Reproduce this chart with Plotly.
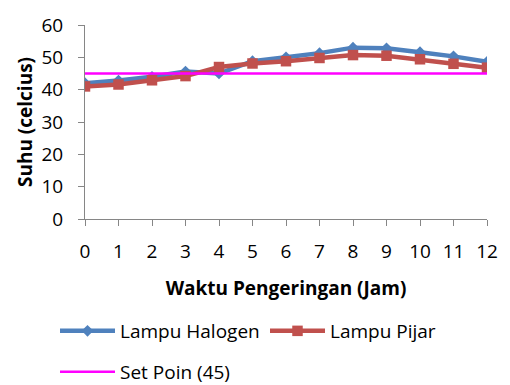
import plotly.graph_objects as go

# Drying time (hours) and measured temperatures
jam = [0, 1, 2, 3, 4, 5, 6, 7, 8, 9, 10, 11, 12]
lampu_halogen = [42.0, 42.8, 44.0, 45.6, 45.0, 48.8, 50.0, 51.3, 53.0, 52.8, 51.6, 50.3, 48.6]
lampu_pijar = [41.0, 41.6, 42.9, 44.2, 47.0, 48.1, 48.8, 49.8, 50.7, 50.5, 49.4, 48.0, 46.8]
set_poin = [45] * len(jam)

y_ticks = [0, 10, 20, 30, 40, 50, 60]
FONT = "Open Sans"
FS = 19
AXIS_GREY = "#868686"

fig = go.Figure()

fig.add_trace(go.Scatter(
    x=jam, y=lampu_halogen, name="Lampu Halogen", mode="lines+markers",
    line=dict(color="#4F81BD", width=4.5),
    marker=dict(symbol="diamond", size=9, color="#4F81BD"),
    legend="legend",
))
fig.add_trace(go.Scatter(
    x=jam, y=lampu_pijar, name="Lampu Pijar", mode="lines+markers",
    line=dict(color="#C0504D", width=4.5),
    marker=dict(symbol="square", size=10.5, color="#C0504D"),
    legend="legend2",
))
fig.add_trace(go.Scatter(
    x=jam, y=set_poin, name="Set Poin (45)", mode="lines",
    line=dict(color="#FF00FF", width=2.5),
    legend="legend3",
))


def legend_box(left_px, top_px):
    return dict(
        orientation="h", xref="container", yref="container",
        x=left_px / 510, y=1 - top_px / 385, xanchor="left", yanchor="top",
        font=dict(family=FONT, size=FS), itemwidth=55,
        bgcolor="rgba(0,0,0,0)",
    )


fig.update_layout(
    width=510, height=385,
    margin=dict(l=85, r=14, t=21, b=166),
    paper_bgcolor="white", plot_bgcolor="white",
    font=dict(family=FONT, size=FS, color="#000000"),
    legend=legend_box(55, 312),
    legend2=legend_box(265, 312),
    legend3=legend_box(55, 353),
    showlegend=True,
)

fig.update_xaxes(
    range=[0, 12], tickmode="array", tickvals=jam, ticktext=[str(v) for v in jam],
    showgrid=False, zeroline=False, showline=True, linecolor=AXIS_GREY, linewidth=1,
    ticks="outside", ticklen=6, tickcolor=AXIS_GREY, ticklabelstandoff=9,
    tickfont=dict(family=FONT, size=FS),
    title=dict(text="<b>Waktu Pengeringan (Jam)</b>", font=dict(family=FONT, size=FS), standoff=18),
)
fig.update_yaxes(
    range=[0, 60], tickmode="array", tickvals=y_ticks,
    showgrid=False, zeroline=False, showline=True, linecolor=AXIS_GREY, linewidth=1,
    ticks="outside", ticklen=6, tickcolor=AXIS_GREY, ticklabelstandoff=11,
    tickfont=dict(family=FONT, size=FS),
    title=dict(text="<b>Suhu (celcius)</b>", font=dict(family=FONT, size=FS), standoff=3),
)

fig.write_html("out.html")
